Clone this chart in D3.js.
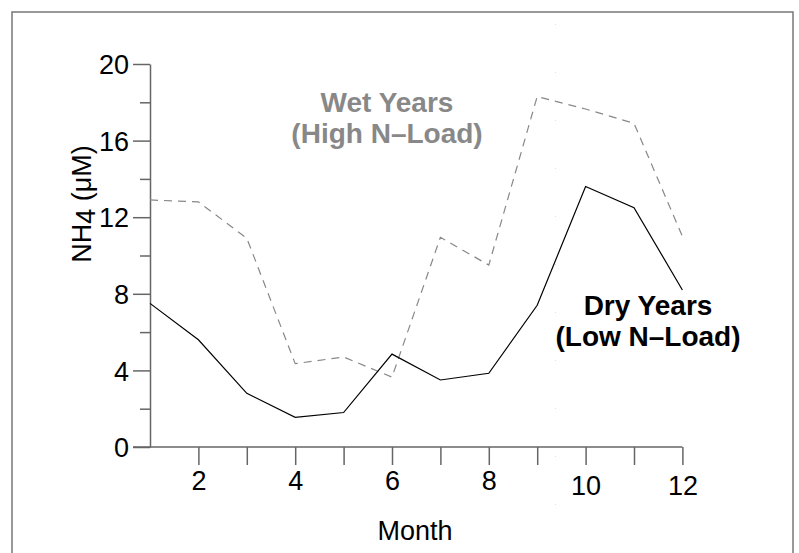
<!DOCTYPE html>
<html>
<head>
<meta charset="utf-8">
<script src="https://cdn.jsdelivr.net/npm/d3@7"></script>
<style>
  body { margin: 0; background: #fff; }
  svg { display: block; }
</style>
</head>
<body>
<svg></svg>
<script>
let months = [1, 2, 3, 4, 5, 6, 7, 8, 9, 10, 11, 12]
let dryYears = [7.5, 5.6, 2.8, 1.55, 1.8, 4.85, 3.5, 3.85, 7.4, 13.6, 12.5, 8.2]
let wetYears = [12.9, 12.8, 10.9, 4.35, 4.7, 3.65, 10.95, 9.5, 18.3, 17.65, 16.9, 11.0]
let yMajorTicks = [0, 4, 8, 12, 16, 20]
let yMinorTicks = [2, 6, 10, 14, 18]
let xTicks = [2, 3, 4, 5, 6, 7, 8, 9, 10, 11, 12]
let xLabels = [2, 4, 6, 8, 10, 12]

let width = 799
let height = 553
let font = 'Liberation Sans, Arial, sans-serif'

let svg = d3.select('svg')
    .attr('width', width)
    .attr('height', height)

// outer frame
svg.append('rect')
   .attr('x', 12)
   .attr('y', 12)
   .attr('width', 781)
   .attr('height', 560)
   .attr('fill', 'none')
   .attr('stroke', '#777')
   .attr('stroke-width', 1.5)

let xScale = d3.scaleLinear().domain([1, 12]).range([150, 682.4])
let yScale = d3.scaleLinear().domain([0, 20]).range([447, 64])

// faint dotted guide
svg.append('line')
   .attr('x1', xScale(9.38)).attr('x2', xScale(9.38))
   .attr('y1', 24).attr('y2', 515)
   .attr('stroke', '#ddd')
   .attr('stroke-dasharray', '1,47')

// y axis minor ticks
let yMinor = svg.append('g')
   .attr('transform', 'translate(150,0)')
   .call(d3.axisLeft(yScale).tickValues(yMinorTicks).tickSize(10).tickSizeOuter(0).tickFormat(''))
yMinor.select('.domain').remove()

let yAxis = svg.append('g')
   .attr('transform', 'translate(150,0)')
   .call(d3.axisLeft(yScale).tickValues(yMajorTicks).tickSize(17).tickSizeOuter(0).tickPadding(4))

let xAxis = svg.append('g')
   .attr('transform', 'translate(0,447)')
   .call(d3.axisBottom(xScale).tickValues(xTicks).tickSize(18).tickSizeOuter(0)
        .tickFormat(d => xLabels.includes(d) ? d : ''))
   .call(g => g.select('.domain').attr('d', 'M133,0H682.4'))

svg.selectAll('.domain, .tick line')
   .attr('stroke', '#666')
   .attr('stroke-width', 1.5)

yAxis.selectAll('text')
   .attr('font-family', font)
   .attr('font-size', 27)
   .attr('fill', '#000')
   .attr('dy', '0.36em')

xAxis.selectAll('text')
   .attr('font-family', font)
   .attr('font-size', 27)
   .attr('fill', '#000')
   .attr('y', d => d >= 10 ? 29 : 24)

// lines
let line = d3.line()
    .x((d, i) => xScale(months[i]))
    .y(d => yScale(d))

svg.append('path')
   .datum(wetYears)
   .attr('d', line)
   .attr('fill', 'none')
   .attr('stroke', '#888')
   .attr('stroke-width', 1.2)
   .attr('stroke-dasharray', '8,6')

svg.append('path')
   .datum(dryYears)
   .attr('d', line)
   .attr('fill', 'none')
   .attr('stroke', '#000')
   .attr('stroke-width', 1.2)

// axis titles
svg.append('text')
   .text('Month')
   .attr('x', 415)
   .attr('y', 540)
   .attr('text-anchor', 'middle')
   .attr('font-family', font)
   .attr('font-size', 27)

let yTitle = svg.append('text')
   .attr('transform', 'translate(91,204) rotate(-90)')
   .attr('text-anchor', 'middle')
   .attr('font-family', font)
   .attr('font-size', 27)
yTitle.append('tspan').text('NH')
yTitle.append('tspan').text('4').attr('dy', 4)
yTitle.append('tspan').text(' (μM)').attr('dy', -4)

// series labels
let addLabel = (lines, x, y, color) => {
    lines.forEach((t, i) => {
        svg.append('text')
           .text(t)
           .attr('x', x)
           .attr('y', y + i * 31)
           .attr('text-anchor', 'middle')
           .attr('font-family', font)
           .attr('font-size', 28)
           .attr('font-weight', 'bold')
           .attr('fill', color)
    })
}
addLabel(['Wet Years', '(High N–Load)'], 387, 112, '#888')
addLabel(['Dry Years', '(Low N–Load)'], 648, 315, '#000')
</script>
</body>
</html>
